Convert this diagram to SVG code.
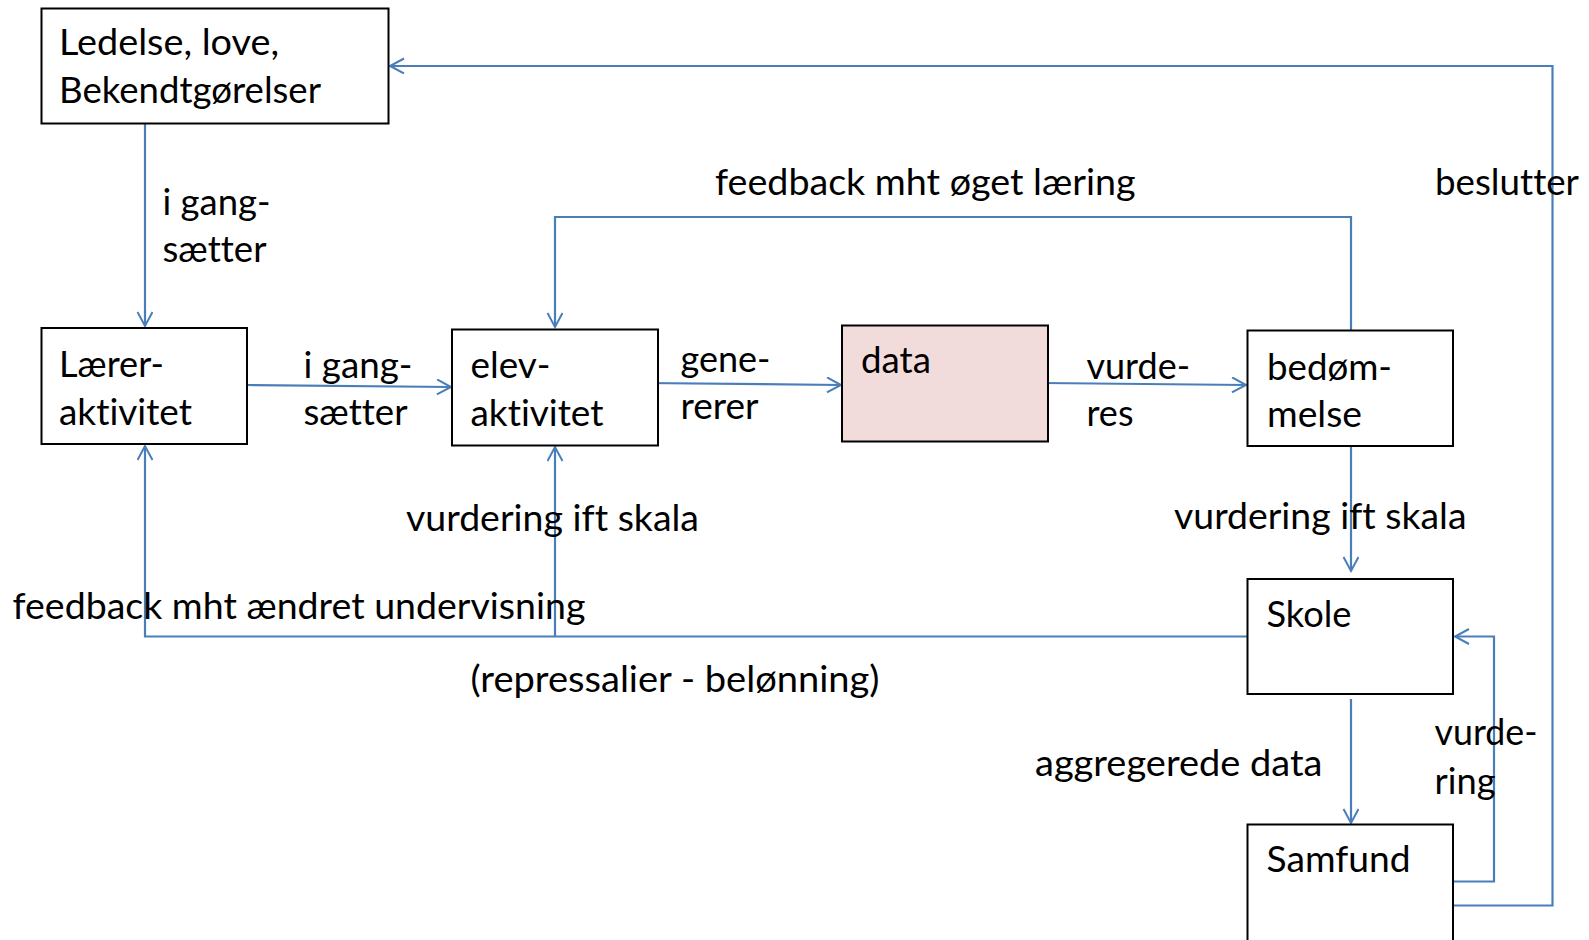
<svg xmlns="http://www.w3.org/2000/svg" width="1589" height="940" viewBox="0 0 1589 940">
<defs>
<marker id="arr" markerUnits="userSpaceOnUse" markerWidth="18" markerHeight="18" refX="15" refY="8" orient="auto">
<path d="M1,0.5 L15,8 L1,15.5" fill="none" stroke="#4A7EBB" stroke-width="2"/>
</marker>
<style>
.box{fill:#fff;stroke:#000;stroke-width:2}
.t{font-family:Lato,"Liberation Sans",sans-serif;font-size:36.5px;fill:#000;font-variant-ligatures:none;font-feature-settings:"liga" 0,"clig" 0}
.c{fill:none;stroke:#4A7EBB;stroke-width:2.2}
.a{marker-end:url(#arr)}
</style>
</defs>
<rect width="1589" height="940" fill="#fff"/>
<g id="connectors">
<path class="c a" d="M145,124 V326"/>
<path class="c a" d="M247,385 L451,387"/>
<path class="c a" d="M644,383 L841,385"/>
<path class="c a" d="M1043,383 L1246,385"/>
<path class="c a" d="M1351,330 V217 H555 V327"/>
<path class="c a" d="M1351,446 V571"/>
<path class="c a" d="M1351,699 V823"/>
<path class="c a" d="M1453,881.5 H1494 V636.5 H1455"/>
<path class="c a" d="M1453,905.5 H1552.5 V66 H390"/>
<path class="c a" d="M1247.5,636.5 H145 V446"/>
<path class="c a" d="M555,636.5 V447"/>
</g>
<g id="n-ledelse">
<rect class="box" x="41.5" y="8.5" width="347" height="115"/>
<text class="t" x="59" y="55" textLength="220" lengthAdjust="spacingAndGlyphs">Ledelse, love,</text>
<text class="t" x="59" y="103" textLength="262" lengthAdjust="spacingAndGlyphs">Bekendtgørelser</text>
</g>
<g id="n-laerer">
<rect class="box" x="41.5" y="328" width="205.5" height="116"/>
<text class="t" x="59" y="377" textLength="105" lengthAdjust="spacingAndGlyphs">Lærer-</text>
<text class="t" x="59" y="425" textLength="133" lengthAdjust="spacingAndGlyphs">aktivitet</text>
</g>
<g id="n-elev">
<rect class="box" x="452" y="329.5" width="206" height="116"/>
<text class="t" x="470.5" y="378" textLength="80" lengthAdjust="spacingAndGlyphs">elev-</text>
<text class="t" x="470.5" y="426" textLength="133" lengthAdjust="spacingAndGlyphs">aktivitet</text>
</g>
<g id="n-data">
<rect x="842" y="325.5" width="206" height="116" fill="#F2DCDB" stroke="#000" stroke-width="2"/>
<text class="t" x="861" y="372.5" textLength="70" lengthAdjust="spacingAndGlyphs">data</text>
</g>
<g id="n-bedom">
<rect class="box" x="1247.5" y="330.5" width="205.5" height="115.5"/>
<text class="t" x="1267" y="379.5" textLength="125" lengthAdjust="spacingAndGlyphs">bedøm-</text>
<text class="t" x="1267" y="427" textLength="95" lengthAdjust="spacingAndGlyphs">melse</text>
</g>
<g id="n-skole">
<rect class="box" x="1247.5" y="579" width="205.5" height="115"/>
<text class="t" x="1266.5" y="626.5" textLength="85" lengthAdjust="spacingAndGlyphs">Skole</text>
</g>
<g id="n-samfund">
<rect class="box" x="1247.5" y="824.5" width="205.5" height="130"/>
<text class="t" x="1266.5" y="871.5" textLength="144" lengthAdjust="spacingAndGlyphs">Samfund</text>
</g>
<g id="labels">
<text class="t" x="162.5" y="215" textLength="108" lengthAdjust="spacingAndGlyphs">i gang-</text>
<text class="t" x="162.5" y="262" textLength="104" lengthAdjust="spacingAndGlyphs">sætter</text>
<text class="t" x="303.5" y="377.5" textLength="109" lengthAdjust="spacingAndGlyphs">i gang-</text>
<text class="t" x="303.5" y="425" textLength="104" lengthAdjust="spacingAndGlyphs">sætter</text>
<text class="t" x="680.5" y="371.5" textLength="90" lengthAdjust="spacingAndGlyphs">gene-</text>
<text class="t" x="680.5" y="419" textLength="78" lengthAdjust="spacingAndGlyphs">rerer</text>
<text class="t" x="1086.5" y="378.5" textLength="103.5" lengthAdjust="spacingAndGlyphs">vurde-</text>
<text class="t" x="1086.5" y="426" textLength="47" lengthAdjust="spacingAndGlyphs">res</text>
<text class="t" x="715" y="195" textLength="420.5" lengthAdjust="spacingAndGlyphs">feedback mht øget læring</text>
<text class="t" x="1435" y="194.5" textLength="144" lengthAdjust="spacingAndGlyphs">beslutter</text>
<text class="t" x="1174" y="528.5" textLength="292.5" lengthAdjust="spacingAndGlyphs">vurdering ift skala</text>
<text class="t" x="1035" y="775.5" textLength="287.5" lengthAdjust="spacingAndGlyphs">aggregerede data</text>
<text class="t" x="1434.5" y="745" textLength="103" lengthAdjust="spacingAndGlyphs">vurde-</text>
<text class="t" x="1434.5" y="794" textLength="61" lengthAdjust="spacingAndGlyphs">ring</text>
<text class="t" x="406" y="531" textLength="293" lengthAdjust="spacingAndGlyphs">vurdering ift skala</text>
<text class="t" x="12.5" y="618.5" textLength="573" lengthAdjust="spacingAndGlyphs">feedback mht ændret undervisning</text>
<text class="t" x="470.5" y="692" textLength="409" lengthAdjust="spacingAndGlyphs">(repressalier - belønning)</text>
</g>
</svg>
